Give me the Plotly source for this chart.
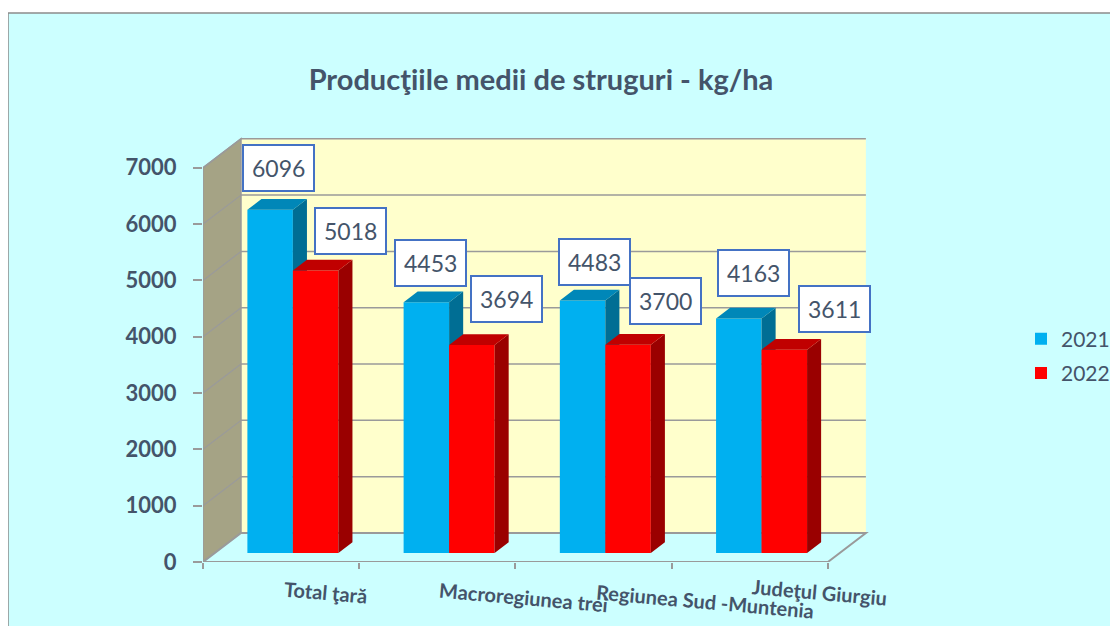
import plotly.graph_objects as go

# ---------------- data ----------------
categories = ["Total ţară", "Macroregiunea trei", "Regiunea Sud -Muntenia", "Judeţul Giurgiu"]
series_names = ["2021", "2022"]
values_2021 = [6096, 4453, 4483, 4163]
values_2022 = [5018, 3694, 3700, 3611]
y_ticks = [0, 1000, 2000, 3000, 4000, 5000, 6000, 7000]
title_text = "Producţiile medii de struguri - kg/ha"

# ---------------- style / layout constants ----------------
PAGE = 8                        # browser body margin: page px = figure px + 8
W, H = 1118 - PAGE, 626 - PAGE
PLOT_L, PLOT_R, PLOT_T, PLOT_B = 203, 906, 134, 562   # plot area in page px
ML, MT = PLOT_L - PAGE, PLOT_T - PAGE
MR, MB = W - (PLOT_R - PAGE), H - (PLOT_B - PAGE)
XR = [-0.5, 4.0]
YR = [0, 7600]
PW, PH = W - ML - MR, H - MT - MB
PXX = PW / (XR[1] - XR[0])      # px per category unit
PXY = PH / (YR[1] - YR[0])      # px per value unit

DEPTH_PX = (38, 29)             # 3D depth of the chart box in px
DX, DY = DEPTH_PX[0] / PXX, DEPTH_PX[1] / PXY
FRONT_F, DEPTH_F = 0.31, 0.37   # bar placement inside depth
BW = 45.5 / PXX                 # bar width in category units
FX, FY = FRONT_F * DX, FRONT_F * DY
BDX, BDY = DEPTH_F * DX, DEPTH_F * DY

TEXT = "#44546A"
GRID = "#9A9A9A"
FONT = "Lato"
colors = {
    "2021": dict(front="#00B0F0", top="#0087B8", side="#006E94"),
    "2022": dict(front="#FF0000", top="#C00000", side="#9A0000"),
}
label_xshift = {"2021": [1, -3, 5, 8], "2022": [28, 28, 30, 43]}
label_yshift = {"2021": [36, 34, 33, 40], "2022": [34, 41, 38, 35]}
cat_xshift = [44, 86, 111, 70]
cat_yshift = [-30, -35, -39, -30]

n = len(categories)
x_left, x_right = XR[0], XR[0] + n

fig = go.Figure()
annotations = []

series_vals = {"2021": values_2021, "2022": values_2022}
for si, name in enumerate(series_names):
    vals = series_vals[name]
    xa, ya = ("x", "y") if si == 0 else ("x2", "y2")
    c = colors[name]
    centers = [i + FX for i in range(n)]
    off = -BW if si == 0 else 0.0
    fig.add_trace(go.Bar(
        x=centers, y=vals, base=[FY] * n, width=[BW] * n, offset=off,
        name=name, marker=dict(color=c["front"], line=dict(width=0)),
        xaxis=xa, yaxis=ya, hoverinfo="skip", legendgroup=name,
    ))
    tx, ty, sx, sy = [], [], [], []
    for i, v in enumerate(vals):
        x0 = centers[i] + off
        x1 = x0 + BW
        top = FY + v
        tx += [x0, x1, x1 + BDX, x0 + BDX, x0, None]
        ty += [top, top, top + BDY, top + BDY, top, None]
        sx += [x1, x1, x1 + BDX, x1 + BDX, x1, None]
        sy += [FY, top, top + BDY, FY + BDY, FY, None]
        annotations.append(dict(
            x=(x0 + x1) / 2 + BDX / 2, y=top + BDY / 2, xref="x", yref="y",
            text=f"{v}", showarrow=False, xanchor="center", yanchor="middle",
            xshift=label_xshift[name][i], yshift=label_yshift[name][i],
            font=dict(family=FONT, size=23, color=TEXT),
            bgcolor="white", bordercolor="#4472C4", borderwidth=2, borderpad=8,
        ))
    fig.add_trace(go.Scatter(x=sx, y=sy, mode="lines", fill="toself",
                             fillcolor=c["side"], line=dict(width=0, color=c["side"]),
                             xaxis=xa, yaxis=ya, showlegend=False, hoverinfo="skip"))
    fig.add_trace(go.Scatter(x=tx, y=ty, mode="lines", fill="toself",
                             fillcolor=c["top"], line=dict(width=0, color=c["top"]),
                             xaxis=xa, yaxis=ya, showlegend=False, hoverinfo="skip"))

# category labels
for i, cat in enumerate(categories):
    annotations.append(dict(
        x=i, y=0, xref="x", yref="y", text=f"<b>{cat}</b>", showarrow=False,
        xanchor="center", yanchor="middle", textangle=5,
        xshift=cat_xshift[i], yshift=cat_yshift[i],
        font=dict(family=FONT, size=20, color=TEXT),
    ))

# ---------------- decoration shapes (3D box) ----------------
def px_to_paper_x(px):          # page px -> paper
    return (px - PAGE - ML) / PW

def px_to_paper_y(py):
    return (H + PAGE - MB - py) / PH

shapes = []
# chart area frame
shapes.append(dict(type="rect", xref="paper", yref="paper", layer="below",
                   x0=px_to_paper_x(8), x1=px_to_paper_x(1140),
                   y0=px_to_paper_y(650), y1=px_to_paper_y(13),
                   fillcolor="#CCFFFF", line=dict(color="#8C8C8C", width=1.5)))
ymax = y_ticks[-1]
# back wall
shapes.append(dict(type="rect", xref="x", yref="y", layer="below",
                   x0=x_left + DX, x1=x_right + DX, y0=DY, y1=ymax + DY,
                   fillcolor="#FFFFCC", line=dict(width=0)))
# side wall
shapes.append(dict(type="path", xref="x", yref="y", layer="below",
                   path=f"M{x_left},0 L{x_left},{ymax} L{x_left + DX},{ymax + DY} L{x_left + DX},{DY} Z",
                   fillcolor="#A5A385", line=dict(color=GRID, width=1.5)))
# floor
shapes.append(dict(type="path", xref="x", yref="y", layer="below",
                   path=f"M{x_left},0 L{x_right},0 L{x_right + DX},{DY} L{x_left + DX},{DY} Z",
                   fillcolor="#CCFFFF", line=dict(color=GRID, width=2)))
for t in y_ticks:
    shapes.append(dict(type="line", xref="x", yref="y", layer="below",
                       x0=x_left + DX, x1=x_right + DX, y0=t + DY, y1=t + DY,
                       line=dict(color=GRID, width=1.5)))
    if t > 0:
        shapes.append(dict(type="line", xref="x", yref="y", layer="below",
                           x0=x_left, x1=x_left + DX, y0=t, y1=t + DY,
                           line=dict(color=GRID, width=1.2)))

fig.update_layout(
    width=W, height=H,
    margin=dict(l=ML, r=MR, t=MT, b=MB, autoexpand=False),
    paper_bgcolor="white", plot_bgcolor="rgba(0,0,0,0)",
    barmode="overlay",
    title=dict(text=f"<b>{title_text}</b>", xref="container", yref="container",
               x=(541 - PAGE) / W, y=1 - (80 - PAGE) / H, xanchor="center", yanchor="middle",
               font=dict(family=FONT, size=29, color=TEXT)),
    xaxis=dict(range=XR, showgrid=False, zeroline=False, showline=False,
               tickmode="array", tickvals=[x_left + k for k in range(n + 1)],
               ticktext=[""] * (n + 1), ticks="outside", ticklen=6,
               tickcolor=GRID, tickwidth=1.5, fixedrange=True),
    yaxis=dict(range=YR, showgrid=False, zeroline=False, showline=False,
               tickmode="array", tickvals=y_ticks,
               ticktext=[f"<b>{t}</b>" for t in y_ticks],
               ticks="outside", ticklen=9, tickcolor=GRID, tickwidth=1.5,
               ticklabelstandoff=12,
               tickfont=dict(family=FONT, size=22, color=TEXT), fixedrange=True),
    xaxis2=dict(range=XR, overlaying="x", visible=False, fixedrange=True),
    yaxis2=dict(range=YR, overlaying="y", visible=False, fixedrange=True),
    legend=dict(x=px_to_paper_x(1021), y=px_to_paper_y(356), xanchor="left",
                yanchor="middle", bgcolor="rgba(0,0,0,0)", tracegroupgap=4,
                font=dict(family=FONT, size=21, color=TEXT)),
    shapes=shapes,
    annotations=annotations,
    showlegend=True,
)

fig.write_html("out.html")
